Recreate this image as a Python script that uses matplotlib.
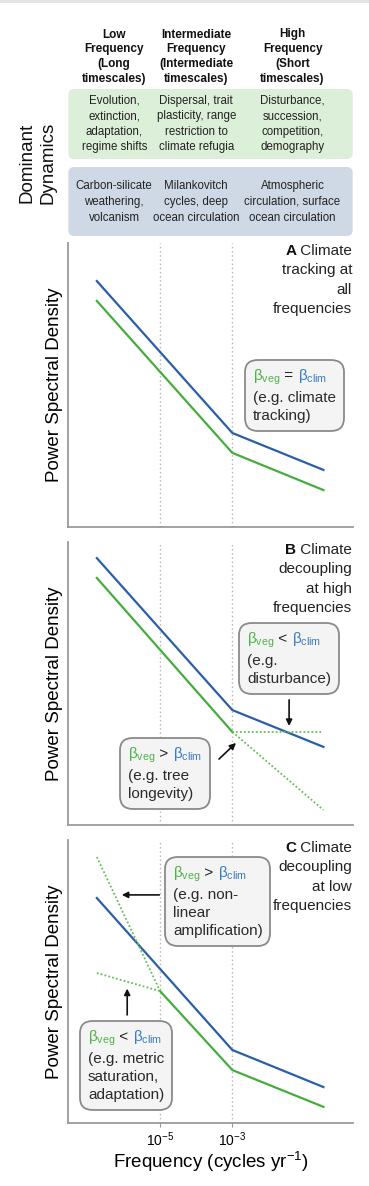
import matplotlib
matplotlib.use("Agg")
import matplotlib.pyplot as plt
import matplotlib.transforms as mtransforms
from matplotlib.patches import FancyBboxPatch
from matplotlib.ticker import NullLocator
from matplotlib.offsetbox import TextArea, HPacker, VPacker, AnnotationBbox, AnchoredOffsetbox
import numpy as np

plt.rcParams['font.family'] = ['Liberation Sans', 'DejaVu Sans']
plt.rcParams['mathtext.fontset'] = 'custom'
plt.rcParams['mathtext.rm'] = 'Liberation Sans'
plt.rcParams['mathtext.it'] = 'Liberation Sans:italic'
plt.rcParams['mathtext.bf'] = 'Liberation Sans:bold'

# === Data (log10 frequency, arbitrary log-PSD units) ===
x_lim = (-7.54, 0.33)
f_start, f_low, f_brk, f_end = -6.75, -5.0, -3.0, -0.48
band_edges = [-5, -3]

a_clim = [8.66, 3.31, 2.01]
a_veg = [7.96, 2.61, 1.30]

b_clim = [9.43, 4.06, 2.76]
b_veg = [8.73, 3.29]
b_veg_flat = [3.29, 3.29]
b_veg_steep = [3.29, 0.53]

c_clim = [7.95, 2.58, 1.27]
c_veg = [4.66, 1.87, 0.57]
c_veg_steep = [9.40, 4.66]
c_veg_flat = [5.30, 4.66]

col_heads = ["Low\nFrequency\n(Long\ntimescales)",
             "Intermediate\nFrequency\n(Intermediate\ntimescales)",
             "High\nFrequency\n(Short\ntimescales)"]
veg_dyn = ["Evolution,\nextinction,\nadaptation,\nregime shifts",
           "Dispersal, trait\nplasticity, range\nrestriction to\nclimate refugia",
           "Disturbance,\nsuccession,\ncompetition,\ndemography"]
clim_dyn = ["Carbon-silicate\nweathering,\nvolcanism",
            "Milankovitch\ncycles, deep\nocean circulation",
            "Atmospheric\ncirculation, surface\nocean circulation"]

CLIM = '#2a5ea8'
VEG = '#45ad3c'
VEG_DOT = '#62c055'
CLIM_TXT = '#3a7cc0'
VEG_TXT = '#4db446'
SPINE = '#9a9a9a'

W, H = 369, 1186
fig = plt.figure(figsize=(W / 100, H / 100), dpi=100)

# overlay in pixel units for the header
ov = fig.add_axes([0, 0, 1, 1])
ov.set_xlim(0, W)
ov.set_ylim(H, 0)
ov.axis('off')
ov.add_patch(FancyBboxPatch((0, 0), W, 2.5, boxstyle='square,pad=0', fc='#e4e4e4', ec='none'))


def px_axes(x0, y0, x1, y1):
    return fig.add_axes([x0 / W, 1 - y1 / H, (x1 - x0) / W, (y1 - y0) / H])


axA = px_axes(68.3, 243, 352.7, 527)
axB = px_axes(68.3, 542, 352.7, 825)
axC = px_axes(68.3, 840, 352.7, 1123)

for ax in (axA, axB, axC):
    ax.set_xscale('log')
    ax.set_xlim(10 ** x_lim[0], 10 ** x_lim[1])
    ax.set_ylim(0, 10)
    for s in ('top', 'right'):
        ax.spines[s].set_visible(False)
    for s in ('left', 'bottom'):
        ax.spines[s].set_color(SPINE)
        ax.spines[s].set_linewidth(1.3)
    ax.set_yticks([])
    ax.xaxis.set_minor_locator(NullLocator())
    for e in band_edges:
        ax.axvline(10.0 ** e, color='#b4b4b4', ls=(0, (1, 2.0)), lw=1.0, zorder=0)
    ax.set_ylabel('Power Spectral Density', fontsize=13.5, labelpad=4)

axA.set_xticks([])
axB.set_xticks([])
axC.set_xticks([10.0 ** e for e in band_edges])
axC.set_xticklabels([f'$10^{{{e}}}$' for e in band_edges], fontsize=10)
axC.tick_params(axis='x', length=3, color=SPINE, pad=2)
axC.set_xlabel('Frequency (cycles yr$^{-1}$)', fontsize=13.5, labelpad=1)

fx3 = 10 ** np.array([f_start, f_brk, f_end])
fx_lo = 10 ** np.array([f_low, f_brk, f_end])
fx_a = 10 ** np.array([f_start, f_brk])
fx_b = 10 ** np.array([f_brk, f_end])
fx_c = 10 ** np.array([f_start, f_low])

# A
axA.plot(fx3, a_clim, color=CLIM, lw=1.6)
axA.plot(fx3, a_veg, color=VEG, lw=1.6)
# B
axB.plot(fx3, b_clim, color=CLIM, lw=1.6)
axB.plot(fx_a, b_veg, color=VEG, lw=1.6)
axB.plot(fx_b, b_veg_flat, color=VEG_DOT, lw=1.3, ls=(0, (1, 1.2)))
axB.plot(fx_b, b_veg_steep, color=VEG_DOT, lw=1.3, ls=(0, (1, 1.2)))
# C
axC.plot(fx3, c_clim, color=CLIM, lw=1.6)
axC.plot(fx_lo, c_veg, color=VEG, lw=1.6)
axC.plot(fx_c, c_veg_steep, color=VEG_DOT, lw=1.3, ls=(0, (1, 1.2)))
axC.plot(fx_c, c_veg_flat, color=VEG_DOT, lw=1.3, ls=(0, (1, 1.2)))


def panel_title(ax, letter, first, rest):
    top = HPacker(children=[TextArea(letter, textprops=dict(size=11, weight='bold', color='#111')),
                            TextArea(' ' + first, textprops=dict(size=11, color='#222'))],
                  pad=0, sep=0, align='baseline')
    body = TextArea(rest, textprops=dict(size=11, color='#222', ha='right',
                                         multialignment='right', linespacing=1.5))
    box = VPacker(children=[top, body], align='right', pad=0, sep=4)
    ab = AnchoredOffsetbox(loc='upper right', child=box, pad=0, borderpad=0.05, frameon=False)
    ax.add_artist(ab)


panel_title(axA, 'A', 'Climate', 'tracking at\nall\nfrequencies')
panel_title(axB, 'B', 'Climate', 'decoupling\nat high\nfrequencies')
panel_title(axC, 'C', 'Climate', 'decoupling\nat low\nfrequencies')


def note(ax, rel, text, xy):
    beta = HPacker(children=[TextArea(r'$\mathrm{β}_{\mathrm{veg}}$', textprops=dict(size=11, color=VEG_TXT)),
                             TextArea(' ' + rel + ' ', textprops=dict(size=11, color='#222')),
                             TextArea(r'$\mathrm{β}_{\mathrm{clim}}$', textprops=dict(size=11, color=CLIM_TXT))],
                   pad=0, sep=0, align='baseline')
    body = TextArea(text, textprops=dict(size=11, color='#2a2a2a', linespacing=1.38))
    box = VPacker(children=[beta, body], align='left', pad=0, sep=3)
    ab = AnnotationBbox(box, xy, xycoords='axes fraction', box_alignment=(0, 1),
                        frameon=True, pad=0.55,
                        bboxprops=dict(boxstyle='round,pad=0.55,rounding_size=0.9',
                                       fc='#f4f4f4', ec='#8a8a8a', lw=1.3))
    ax.add_artist(ab)


def arrow(ax, tail, tip):
    ax.annotate('', xy=(10 ** tip[0], tip[1]), xytext=(10 ** tail[0], tail[1]),
                arrowprops=dict(arrowstyle='-|>', color='#111', lw=1.2,
                                mutation_scale=9, shrinkA=0, shrinkB=0))


note(axA, '=', '(e.g. climate\ntracking)', (0.649, 0.562))
note(axB, '<', '(e.g.\ndisturbance)', (0.628, 0.688))
note(axB, '>', '(e.g. tree\nlongevity)', (0.210, 0.281))
note(axC, '>', '(e.g. non-\nlinear\namplification)', (0.368, 0.914))
note(axC, '<', '(e.g. metric\nsaturation,\nadaptation)', (0.069, 0.334))

arrow(axB, (-1.43, 4.42), (-1.43, 3.50))
arrow(axB, (-3.37, 2.33), (-2.90, 2.90))
arrow(axC, (-5.02, 8.06), (-6.06, 8.06))
arrow(axC, (-5.91, 3.82), (-5.91, 4.75))

# === Header: frequency bands and dominant dynamics ===
centers = [(x_lim[0] + band_edges[0]) / 2,
           (band_edges[0] + band_edges[1]) / 2,
           (band_edges[1] + x_lim[1]) / 2]
hdr = mtransforms.blended_transform_factory(axA.transData, ov.transData)

ov.add_patch(FancyBboxPatch((68.3, 89), 284.4, 70, boxstyle='round,pad=0,rounding_size=6',
                            fc='#dcefd8', ec='none'))
ov.add_patch(FancyBboxPatch((68.3, 167), 284.4, 69, boxstyle='round,pad=0,rounding_size=6',
                            fc='#cfd9e6', ec='none'))

for c, head, veg, clim in zip(centers, col_heads, veg_dyn, clim_dyn):
    ov.text(10 ** c, 28.5, head, transform=hdr, ha='center', va='top', fontsize=8.5,
            weight='bold', color='#111', linespacing=1.33)
    ov.text(10 ** c, 124, veg, transform=hdr, ha='center', va='center', fontsize=8.3,
            color='#222', linespacing=1.4)
    ov.text(10 ** c, 202, clim, transform=hdr, ha='center', va='center', fontsize=8.3,
            color='#222', linespacing=1.4)

ov.text(37.5, 162.5, 'Dominant\nDynamics', rotation=90, ha='center', va='center',
        fontsize=13.5, color='#111', linespacing=1.25)

fig.savefig('out.png', dpi=100)
